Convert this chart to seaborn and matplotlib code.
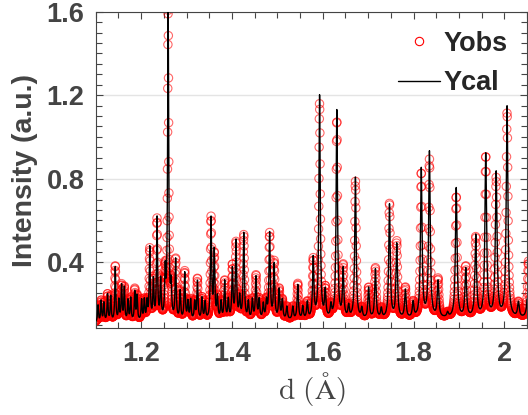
import numpy as np
import pandas as pd
import seaborn as sns
import matplotlib.pyplot as plt
from matplotlib.lines import Line2D
from matplotlib.ticker import MultipleLocator, FuncFormatter

# peak positions (d, Angstrom) and heights
peak_d = [1.105, 1.112, 1.118, 1.126, 1.133, 1.143, 1.151, 1.157, 1.163, 1.171,
          1.177, 1.186, 1.191, 1.201, 1.207, 1.213, 1.219, 1.227, 1.235, 1.243,
          1.253, 1.2595, 1.266, 1.276, 1.286, 1.296, 1.303, 1.309, 1.318, 1.324,
          1.334, 1.341, 1.354, 1.361, 1.368, 1.376, 1.384, 1.392, 1.401, 1.409,
          1.417, 1.426, 1.436, 1.445, 1.453, 1.460, 1.469, 1.476, 1.483, 1.493,
          1.504, 1.511, 1.521, 1.534, 1.545, 1.556, 1.566, 1.579, 1.593, 1.6055,
          1.618, 1.631, 1.645, 1.657, 1.672, 1.686, 1.701, 1.716, 1.729, 1.747,
          1.763, 1.782, 1.799, 1.817, 1.835, 1.854, 1.875, 1.894, 1.915, 1.937,
          1.959, 1.982, 2.006, 2.031, 2.053]
cal_height = [0.19, 0.21, 0.20, 0.24, 0.23, 0.37, 0.21, 0.28, 0.27, 0.21,
              0.22, 0.25, 0.23, 0.21, 0.21, 0.20, 0.46, 0.30, 0.60, 0.30,
              0.33, 1.60, 0.26, 0.40, 0.25, 0.34, 0.20, 0.21, 0.20, 0.30,
              0.22, 0.20, 0.60, 0.44, 0.22, 0.20, 0.30, 0.21, 0.355, 0.49,
              0.22, 0.53, 0.20, 0.21, 0.32, 0.21, 0.19, 0.20, 0.53, 0.38,
              0.26, 0.21, 0.18, 0.18, 0.285, 0.18, 0.20, 0.41, 1.19, 0.25,
              0.18, 1.12, 0.355, 0.18, 0.80, 0.17, 0.27, 0.36, 0.17, 0.67,
              0.48, 0.26, 0.20, 0.84, 0.92, 0.30, 0.15, 0.75, 0.36, 0.52,
              0.91, 0.82, 1.14, 0.20, 0.38]
obs_height = [0.19, 0.21, 0.20, 0.24, 0.23, 0.375, 0.21, 0.28, 0.27, 0.21,
              0.22, 0.26, 0.23, 0.21, 0.21, 0.20, 0.45, 0.30, 0.59, 0.30,
              0.33, 1.595, 0.26, 0.40, 0.25, 0.345, 0.20, 0.21, 0.20, 0.31,
              0.22, 0.20, 0.60, 0.42, 0.22, 0.20, 0.30, 0.21, 0.37, 0.48,
              0.22, 0.52, 0.20, 0.21, 0.325, 0.21, 0.19, 0.20, 0.525, 0.39,
              0.26, 0.21, 0.18, 0.18, 0.29, 0.18, 0.20, 0.40, 1.15, 0.26,
              0.18, 1.07, 0.37, 0.18, 0.78, 0.17, 0.27, 0.365, 0.17, 0.675,
              0.49, 0.27, 0.20, 0.82, 0.88, 0.31, 0.15, 0.71, 0.37, 0.51,
              0.90, 0.79, 1.11, 0.20, 0.40]

# background anchors
bg_d = [1.10, 1.50, 1.87, 2.06]
bg_val = [0.110, 0.118, 0.128, 0.128]

x_ticks = [1.2, 1.4, 1.6, 1.8, 2.0]
y_ticks = [0.4, 0.8, 1.2, 1.6]


def profile(d, heights):
    pk = np.array(peak_d)
    amp = np.array(heights) - np.interp(pk, bg_d, bg_val)
    hw = 0.0011 * pk
    y = np.interp(d, bg_d, bg_val).copy()
    for p, a, g in zip(pk, amp, hw):
        y += a / (1.0 + ((d - p) / g) ** 2)
    return y


d_cal = np.arange(1.098, 2.06, 0.00004)
d_obs = 1.1 * np.exp(np.arange(0, np.log(2.06 / 1.1), 0.00025))
df_cal = pd.DataFrame({'d': d_cal, 'I': profile(d_cal, cal_height)})
df_obs = pd.DataFrame({'d': d_obs, 'I': profile(d_obs, obs_height)})

sns.set_style('ticks')
plt.rcParams['font.family'] = ['Liberation Sans', 'DejaVu Sans']
plt.rcParams['mathtext.fontset'] = 'cm'
txt = '#444444'

fig = plt.figure(figsize=(5.28, 4.15), dpi=100)
ax = fig.add_axes([0.1813, 0.2089, 0.8169, 0.7629])

sns.scatterplot(data=df_obs, x='d', y='I', ax=ax, marker='o', s=36,
                facecolor='none', edgecolor='red', linewidth=0.8, alpha=0.6,
                zorder=2, legend=False)
sns.lineplot(data=df_cal, x='d', y='I', ax=ax, color='black', lw=1.0,
             estimator=None, errorbar=None, zorder=3, legend=False)

ax.set_xlim(1.1, 2.05)
ax.set_ylim(0.083, 1.6)
ax.set_xticks(x_ticks)
ax.set_yticks(y_ticks)
ax.xaxis.set_minor_locator(MultipleLocator(0.05))
ax.yaxis.set_minor_locator(MultipleLocator(0.05))
ax.xaxis.set_major_formatter(FuncFormatter(lambda v, p: f'{v:g}'))
ax.yaxis.set_major_formatter(FuncFormatter(lambda v, p: f'{v:.1f}'))
ax.tick_params(which='both', direction='in', top=True, right=True,
               colors=txt, width=0.8, labelsize=19.5)
ax.tick_params(which='major', length=5)
ax.tick_params(which='minor', length=4)
ax.tick_params(axis='x', pad=9)
ax.tick_params(axis='y', pad=8)
for lab in ax.get_xticklabels() + ax.get_yticklabels():
    lab.set_fontweight('bold')
for s in ax.spines.values():
    s.set_color(txt)
    s.set_linewidth(0.8)
ax.set_axisbelow(True)
ax.yaxis.grid(True, which='major', color='#e4e4e4', lw=1)
ax.xaxis.grid(False)

ax.set_xlabel(r'$\mathrm{d\ (\AA)}$', fontsize=21, color=txt, labelpad=2)
ax.set_ylabel('Intensity (a.u.)', fontsize=20.5, fontweight='bold', color=txt,
              labelpad=6)

handles = [Line2D([], [], ls='none', marker='o', mfc='none', mec='red', ms=6, mew=0.8),
           Line2D([], [], color='black', lw=1.0)]
ax.legend(handles, ['Yobs', 'Ycal'], loc='upper right', frameon=False,
          prop={'weight': 'bold', 'size': 19.5}, handlelength=1.55,
          handletextpad=0.15, labelspacing=0.5, borderaxespad=0.3,
          borderpad=0.4)

fig.savefig('out.png', dpi=100)
